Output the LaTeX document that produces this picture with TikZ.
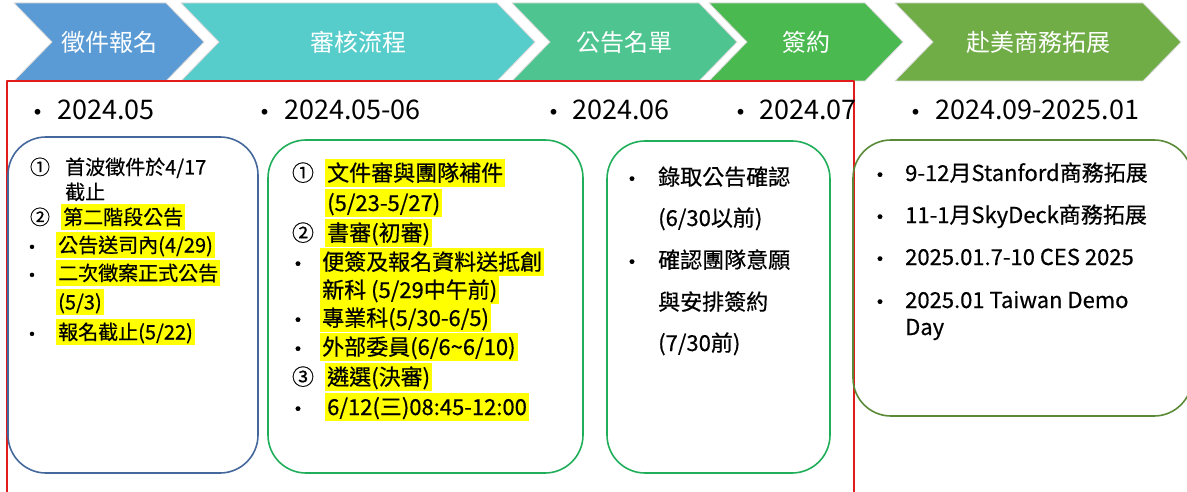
\documentclass[tikz,border=0pt]{standalone}
\usepackage{fontspec}
\setmainfont{Noto Sans CJK TC}
\newfontfamily\cjkbody{Noto Sans CJK TC}[FakeBold=0.5]
\definecolor{cblue}{HTML}{5B9BD5}
\definecolor{cteal}{HTML}{57CDCB}
\definecolor{cmint}{HTML}{4EC590}
\definecolor{cgreen}{HTML}{49B950}
\definecolor{colive}{HTML}{70AD47}
\definecolor{cnavy}{HTML}{44679C}
\definecolor{cline}{HTML}{20AE5A}
\definecolor{cmoss}{HTML}{5A8A37}
\definecolor{cred}{HTML}{E01B1B}
\definecolor{hilite}{HTML}{FFFF00}
\begin{document}
\begin{tikzpicture}[x=1pt, y=-1pt, line join=round, line cap=round, font=\cjkbody\fontsize{22}{26}\selectfont,
		chev/.style={draw=white!85!black, line width=0.8pt},
		lbl/.style={text=white, font=\rmfamily\fontsize{24}{28}\selectfont},
		date/.style={anchor=west, inner sep=0pt, font=\rmfamily\fontsize{27}{30}\selectfont},
		bul/.style={inner sep=0pt, text height=19pt, text depth=3pt},
		txt/.style={anchor=west, inner xsep=2pt, inner ysep=3pt, text height=19pt, text depth=3pt},
		hl/.style={txt, fill=hilite},
		small/.style={font=\cjkbody\fontsize{20}{24}\selectfont, text height=17.5pt, text depth=2.5pt},
		box/.style={line width=1.6pt, rounded corners=38pt}]
			\useasboundingbox (0,0) rectangle (1187,492);
			\filldraw[chev, fill=cblue] (14,3)--(166,3)--(204,42)--(166,81)--(14,81)--(52,42)--cycle;
			\filldraw[chev, fill=cteal] (181,3)--(497,3)--(535,42)--(497,81)--(181,81)--(219,42)--cycle;
			\filldraw[chev, fill=cmint] (512,3)--(699,3)--(737,42)--(699,81)--(512,81)--(550,42)--cycle;
			\filldraw[chev, fill=cgreen] (709,3)--(865,3)--(903,42)--(865,81)--(709,81)--(747,42)--cycle;
			\filldraw[chev, fill=colive] (895,3)--(1143,3)--(1181,42)--(1143,81)--(895,81)--(933,42)--cycle;
			\node (p1) at (109,42) [lbl]{徵件報名};
			\node (p2) at (358,42) [lbl]{審核流程};
			\node (p3) at (624,42) [lbl]{公告名單};
			\node (p4) at (806,42) [lbl]{簽約};
			\node (p5) at (1038,42) [lbl]{赴美商務拓展};
			\draw[cred, line width=1.5pt] (7,495)--(7,81)--(854,81)--(854,495);
			\node (d1b) at (38,115) [bul, font=\rmfamily\fontsize{27}{30}\selectfont]{•};
			\node (d1) at (57,110) [date]{2024.05};
			\node (d2b) at (265,115) [bul, font=\rmfamily\fontsize{27}{30}\selectfont]{•};
			\node (d2) at (284,110) [date]{2024.05-06};
			\node (d3b) at (554,115) [bul, font=\rmfamily\fontsize{27}{30}\selectfont]{•};
			\node (d3) at (572,110) [date]{2024.06};
			\node (d4b) at (741,115) [bul, font=\rmfamily\fontsize{27}{30}\selectfont]{•};
			\node (d4) at (759,110) [date]{2024.07};
			\node (d5b) at (916,115) [bul, font=\rmfamily\fontsize{27}{30}\selectfont]{•};
			\node (d5) at (935,110) [date]{2024.09-2025.01};
			\draw[box, draw=cnavy] (8,137) rectangle (258,473);
			\draw[box, draw=cline] (268,140) rectangle (583,473);
			\draw[box, draw=cline] (607,141) rectangle (830,473);
			\draw[box, draw=cmoss] (853,140) rectangle (1192,416);
			\node (a1n) at (40,167) [bul, small]{①};
			\node (a2n) at (40,217) [bul, small]{②};
			\node (a3n) at (32,247) [bul, small]{•};
			\node (a4n) at (32,275) [bul, small]{•};
			\node (a5n) at (32,334) [bul, small]{•};
			\node (a1) at (63,167) [txt, small]{首波徵件於4/17};
			\node (a1x) at (63,192) [txt, small]{截止};
			\node (a2) at (61,217) [hl, small]{第二階段公告};
			\node (a3) at (56,245) [hl, small]{公告送司內(4/29)};
			\node (a4) at (56,273) [hl, small]{二次徵案正式公告};
			\node (a4x) at (56,302) [hl, small]{(5/3)};
			\node (a5) at (56,332) [hl, small]{報名截止(5/22)};
			\node (b1n) at (303,173) [bul]{①};
			\node (b2n) at (303,233) [bul]{②};
			\node (b3n) at (298,264) [bul]{•};
			\node (b4n) at (298,320) [bul]{•};
			\node (b5n) at (298,349) [bul]{•};
			\node (b6n) at (303,377) [bul]{③};
			\node (b7n) at (298,409) [bul]{•};
			\node (b1) at (325,173) [hl]{文件審與團隊補件};
			\node (b1x) at (325,203) [hl]{(5/23-5/27)};
			\node (b2) at (325,233) [hl]{書審(初審)};
			\node (b3) at (320,262) [hl]{便簽及報名資料送抵創};
			\node (b3x) at (320,290) [hl]{新科 (5/29中午前)};
			\node (b4) at (320,318) [hl]{專業科(5/30-6/5)};
			\node (b5) at (320,347) [hl]{外部委員(6/6\textasciitilde 6/10)};
			\node (b6) at (325,377) [hl]{遴選(決審)};
			\node (b7) at (325,407) [hl]{6/12(三)08:45-12:00};
			\node (c1n) at (632,179) [bul]{•};
			\node (c2n) at (632,262) [bul]{•};
			\node (c1) at (656,177) [txt]{錄取公告確認};
			\node (c1x) at (656,218) [txt]{(6/30以前)};
			\node (c2) at (656,260) [txt]{確認團隊意願};
			\node (c2x) at (656,302) [txt]{與安排簽約};
			\node (c2y) at (656,343) [txt]{(7/30前)};
			\node (e1n) at (880,175) [bul]{•};
			\node (e2n) at (880,217) [bul]{•};
			\node (e3n) at (880,259) [bul]{•};
			\node (e4n) at (880,302) [bul]{•};
			\node (e1) at (903,173) [txt]{9-12月Stanford商務拓展};
			\node (e2) at (903,215) [txt]{11-1月SkyDeck商務拓展};
			\node (e3) at (903,257) [txt]{2025.01.7-10 CES 2025};
			\node (e4) at (903,300) [txt]{2025.01 Taiwan Demo};
			\node (e4x) at (903,327) [txt]{Day};
		\end{tikzpicture}
\end{document}
